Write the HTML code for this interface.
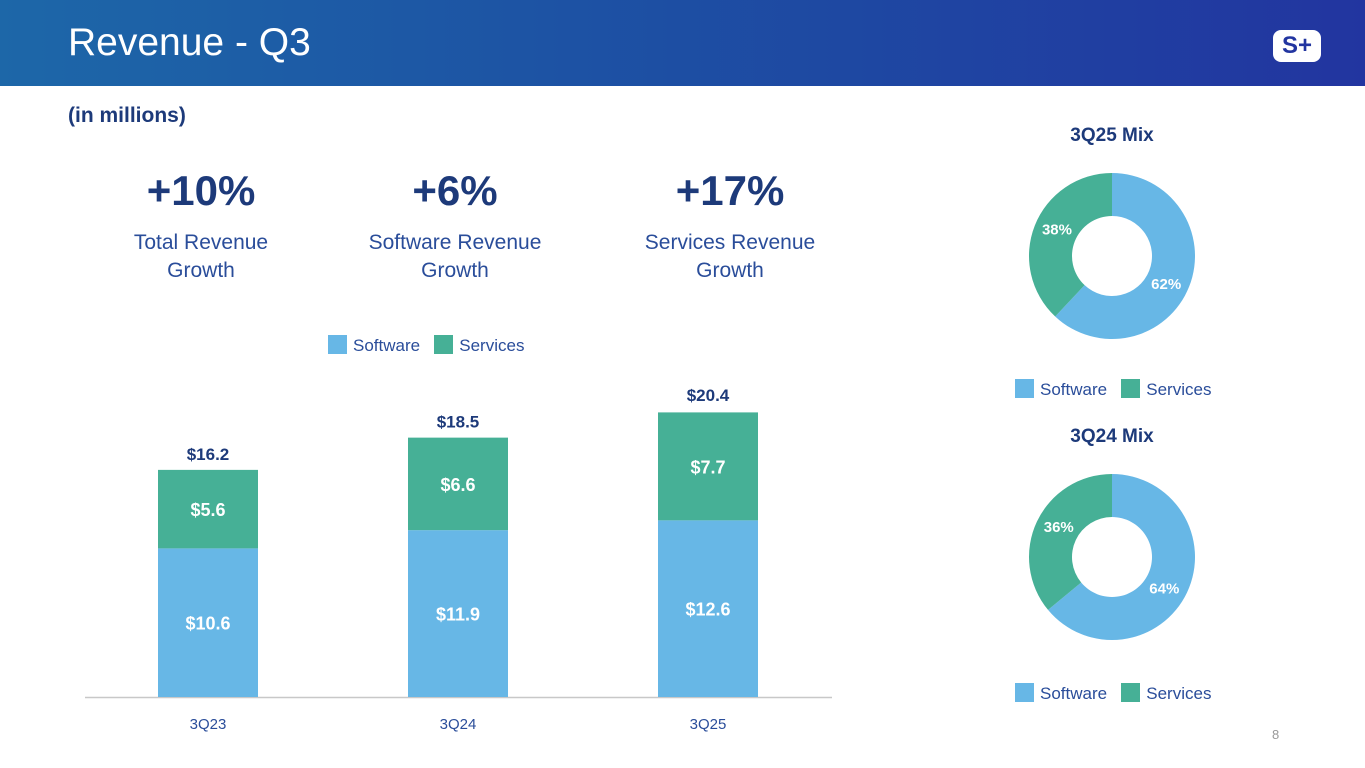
<!DOCTYPE html>
<html><head><meta charset="utf-8">
<style>
body{margin:0;width:1365px;height:768px;overflow:hidden;font-family:"Liberation Sans",sans-serif;background:#fff;position:relative}
.abs{position:absolute}
.hdr{left:0;top:0;width:1365px;height:86px;background:linear-gradient(90deg,#1d67a8 0%,#1d4ea3 50%,#2235a0 100%)}
.ttl{left:68px;top:21px;color:#fff;font-size:39px}
.navy{color:#1d3a7a}
.blue{color:#2a4d9a}
.kpi{font-size:42px;font-weight:bold;text-align:center;width:300px}
.sub{font-size:21px;text-align:center;width:300px;line-height:28px}
.lg{font-size:17px;color:#2a4d9a}
.sw{display:inline-block;width:19px;height:19px;vertical-align:-3px;margin-right:6px}
</style></head><body>
<div class="abs hdr"></div>
<div class="abs ttl">Revenue - Q3</div>
<div class="abs" style="left:1273px;top:30px;width:48px;height:32px;background:#fff;border-radius:8px;color:#2235a0;font-weight:bold;font-size:24px;text-align:center;line-height:32px">S+</div>
<div class="abs navy" style="left:68px;top:104px;font-size:21px;font-weight:bold">(in millions)</div>

<div class="abs kpi navy" style="left:51px;top:167px">+10%</div>
<div class="abs sub blue" style="left:51px;top:229px">Total Revenue<br>Growth</div>
<div class="abs kpi navy" style="left:305px;top:167px">+6%</div>
<div class="abs sub blue" style="left:305px;top:229px">Software Revenue<br>Growth</div>
<div class="abs kpi navy" style="left:580px;top:167px">+17%</div>
<div class="abs sub blue" style="left:580px;top:229px">Services Revenue<br>Growth</div>

<div class="abs lg" style="left:328px;top:335px"><span class="sw" style="background:#67b7e6"></span>Software&nbsp;&nbsp;&nbsp;<span class="sw" style="background:#46b096"></span>Services</div>
<div class="abs lg" style="left:1015px;top:379px"><span class="sw" style="background:#67b7e6"></span>Software&nbsp;&nbsp;&nbsp;<span class="sw" style="background:#46b096"></span>Services</div>
<div class="abs lg" style="left:1015px;top:683px"><span class="sw" style="background:#67b7e6"></span>Software&nbsp;&nbsp;&nbsp;<span class="sw" style="background:#46b096"></span>Services</div>
<div class="abs" style="left:1272px;top:727px;font-size:13px;color:#999">8</div>

<svg id="chart" class="abs" style="left:0;top:0" width="1365" height="768"></svg>
<script>
const categories=["3Q23","3Q24","3Q25"];
const software=[10.6,11.9,12.6];
const services=[5.6,6.6,7.7];
const totals=[16.2,18.5,20.4];
const mixTitles=["3Q25 Mix","3Q24 Mix"];
const mixSoftware=[62,64];
const mixServices=[38,36];

const NS="http://www.w3.org/2000/svg";
const svg=document.getElementById('chart');
function mk(tag,attrs,parent){const e=document.createElementNS(NS,tag);for(const k in attrs)e.setAttribute(k,attrs[k]);(parent||svg).appendChild(e);return e;}
const base=697,scale=14.02,x0=208,step=250,bw=100;
const y=v=>base-v*scale;
const xc=i=>x0+i*step;
function txt(x,yy,s,size,fill,bold){const t=mk('text',{x:x,y:yy,'text-anchor':'middle','font-size':size,fill:fill,'font-family':'Liberation Sans, sans-serif','font-weight':bold?'bold':'normal'});t.textContent=s;return t;}

const ax=mk('line',{x1:85,x2:832,y1:base+0.5,y2:base+0.5,stroke:'#c8c8c8','stroke-width':1.5});


categories.forEach((c,i)=>{
  const sw=mk('rect',{x:xc(i)-bw/2,y:y(software[i]),width:bw,height:software[i]*scale,fill:'#67b7e6'});
  
  
  const sv=mk('rect',{x:xc(i)-bw/2,y:y(software[i]+services[i]),width:bw,height:services[i]*scale,fill:'#46b096'});
  
  
  const l1=txt(xc(i),(y(software[i])+base)/2+7,'$'+software[i].toFixed(1),18,'#ffffff',true);
  
  
  const l2=txt(xc(i),(y(software[i])+y(software[i]+services[i]))/2+7,'$'+services[i].toFixed(1),18,'#ffffff',true);
  
  
  const lt=txt(xc(i),y(totals[i])-10,'$'+totals[i].toFixed(1),17,'#1d3a7a',true);
  
  
  const xl=txt(xc(i),base+32,c,15,'#2a4d9a',false);
  
  
});

const centers=[[1112,256],[1112,557]];
const R=83,r=40;
function arc(cx,cy,a0,a1){
  const p=(a,rad)=>[cx+rad*Math.sin(a),cy-rad*Math.cos(a)];
  const lg=(a1-a0)>Math.PI?1:0;
  const [x1,y1]=p(a0,R),[x2,y2]=p(a1,R),[x3,y3]=p(a1,r),[x4,y4]=p(a0,r);
  return `M${x1},${y1}A${R},${R} 0 ${lg} 1 ${x2},${y2}L${x3},${y3}A${r},${r} 0 ${lg} 0 ${x4},${y4}Z`;
}
mixTitles.forEach((t,k)=>{
  const [cx,cy]=centers[k];
  const tot=mixSoftware[k]+mixServices[k];
  const a1=mixSoftware[k]/tot*2*Math.PI;
  const s1=mk('path',{d:arc(cx,cy,0,a1),fill:'#67b7e6'});
  
  
  const s2=mk('path',{d:arc(cx,cy,a1,2*Math.PI),fill:'#46b096'});
  
  
  const mid=61;
  const m1=a1/2+0.1, m2=(a1+2*Math.PI)/2+0.07;
  const p1=txt(cx+mid*Math.sin(m1),cy-mid*Math.cos(m1)+5,mixSoftware[k]+'%',15,'#fff',true);
  
  
  const p2=txt(cx+mid*Math.sin(m2),cy-mid*Math.cos(m2)+5,mixServices[k]+'%',15,'#fff',true);
  
  
  const tt=txt(cx,cy-115,t,19,'#1d3a7a',true);
  
  
});
</script>
</body></html>
